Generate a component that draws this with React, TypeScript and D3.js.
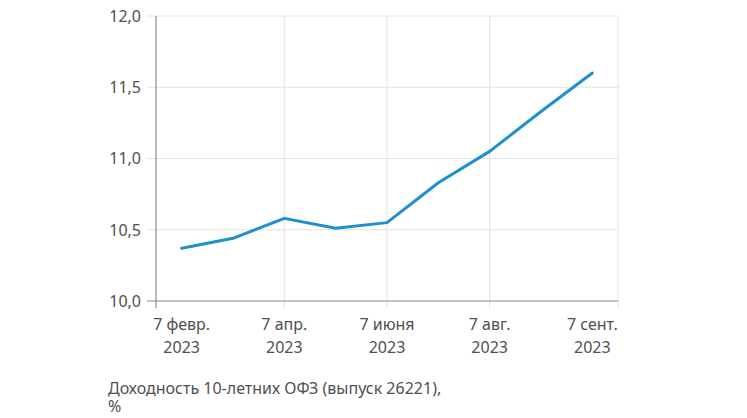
import React from "react";
import * as d3 from "d3";

const categories = [
  "7 февр. 2023",
  "7 марта 2023",
  "7 апр. 2023",
  "7 мая 2023",
  "7 июня 2023",
  "7 июля 2023",
  "7 авг. 2023",
  "22 авг. 2023",
  "7 сент. 2023",
];
const values = [10.37, 10.44, 10.58, 10.51, 10.55, 10.83, 11.05, 11.33, 11.6];
const labeledCategories: [string, string, string][] = [
  ["7 февр. 2023", "7 февр.", "2023"],
  ["7 апр. 2023", "7 апр.", "2023"],
  ["7 июня 2023", "7 июня", "2023"],
  ["7 авг. 2023", "7 авг.", "2023"],
  ["7 сент. 2023", "7 сент.", "2023"],
];
const gridCategories = ["7 апр. 2023", "7 июня 2023", "7 авг. 2023"];
const yTicks = [10.0, 10.5, 11.0, 11.5, 12.0];
const caption1 = "Доходность 10-летних ОФЗ (выпуск 26221),";
const caption2 = "%";

export default function App() {
  const W = 747;
  const H = 418;
  const left = 156;
  const right = 618;
  const top = 16;
  const bottom = 301;
  const font = "'Noto Sans', 'Open Sans', sans-serif";

  const x = d3.scalePoint<string>().domain(categories).range([left, right]).padding(0.5);
  const y = d3.scaleLinear().domain([10, 12]).range([bottom, top]);

  const line = d3
    .line<number>()
    .x((_, i) => x(categories[i]) as number)
    .y((d) => y(d));

  const fmt = (v: number) => v.toFixed(1).replace(".", ",");
  const grid = "#e2e2e2";
  const axis = "#8c8c8c";
  const text = "#505050";

  const vLines = [...gridCategories.map((c) => x(c) as number), right];

  return (
    <svg
      width={W}
      height={H}
      style={{ position: "absolute", left: 0, top: 0, background: "#fff" }}
    >
      {yTicks.map((t) =>
        t === 10 ? null : (
          <line key={"h" + t} x1={left - 9} x2={right} y1={y(t)} y2={y(t)} stroke={grid} strokeWidth={1} />
        )
      )}
      {vLines.map((vx, i) => (
        <line key={"v" + i} x1={vx} x2={vx} y1={top} y2={bottom + 7} stroke={grid} strokeWidth={1} />
      ))}
      <line x1={left} x2={left} y1={top} y2={bottom + 7} stroke={axis} strokeWidth={1.2} />
      <line x1={left - 9} x2={right} y1={bottom} y2={bottom} stroke={axis} strokeWidth={1.2} />
      {yTicks.map((t) => (
        <text
          key={"yl" + t}
          x={141}
          y={y(t)}
          dy="0.36em"
          textAnchor="end"
          fontFamily={font}
          fontSize={16}
          fill={text}
        >
          {fmt(t)}
        </text>
      ))}
      {labeledCategories.map(([c, l1, l2]) => (
        <g key={"xl" + c} fontFamily={font} fontSize={16} fill={text} textAnchor="middle">
          <text x={x(c)} y={330}>{l1}</text>
          <text x={x(c)} y={353}>{l2}</text>
        </g>
      ))}
      <path d={line(values) || ""} fill="none" stroke="#1f8fcd" strokeWidth={3} strokeLinejoin="round" strokeLinecap="round" />
      <text x={108} y={393.5} fontFamily={font} fontSize={16} fill={text}>{caption1}</text>
      <text x={108} y={411.5} fontFamily={font} fontSize={16} fill={text}>{caption2}</text>
    </svg>
  );
}
